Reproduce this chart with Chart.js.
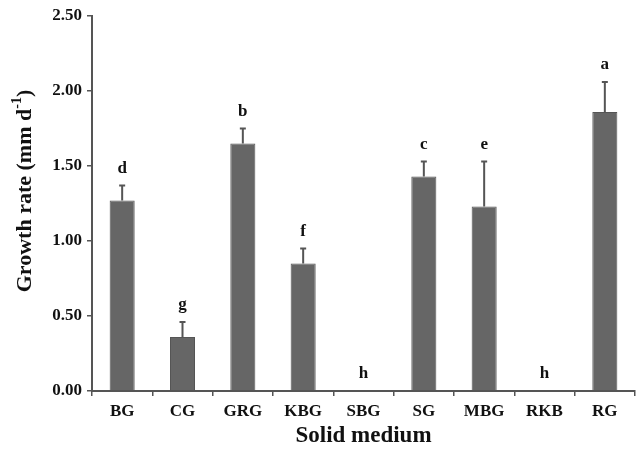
<!DOCTYPE html>
<html>
<head>
<meta charset="utf-8">
<script src="https://cdn.jsdelivr.net/npm/chart.js@4"></script>
<style>
  html, body { margin:0; padding:0; background:#fff; }
  #wrap { width:638px; height:450px; }
</style>
</head>
<body>
<div id="wrap"><canvas id="growth-chart" width="638" height="450"></canvas></div>
<script>
// ─── Data ─────────────────────────────────────────────────────
const media   = ['BG', 'CG', 'GRG', 'KBG', 'SBG', 'SG', 'MBG', 'RKB', 'RG'];
const rates   = [1.27, 0.36, 1.65, 0.85, 0, 1.43, 1.23, 0, 1.86];
const errs    = [0.10, 0.10, 0.10, 0.10, 0, 0.10, 0.30, 0, 0.20];
const letters = ['d', 'g', 'b', 'f', 'h', 'c', 'e', 'h', 'a'];
const yTicks  = [0, 0.5, 1.0, 1.5, 2.0, 2.5];

const SERIF = "'Liberation Serif', 'Times New Roman', serif";
const AXIS  = '#555';

// ── Error bars + significance letters ─────────────────────────
const annot = {
  id: 'annot',
  afterDatasetsDraw(chart) {
    const { ctx, scales: { x, y } } = chart;
    ctx.save();
    ctx.strokeStyle = AXIS;
    ctx.lineWidth = 2;
    rates.forEach((v, i) => {
      const cx  = x.getPixelForValue(i);
      const top = y.getPixelForValue(v + errs[i]);
      if (errs[i] > 0) {
        ctx.beginPath();
        ctx.moveTo(cx, y.getPixelForValue(v));
        ctx.lineTo(cx, top);
        ctx.moveTo(cx - 3, top);
        ctx.lineTo(cx + 3, top);
        ctx.stroke();
      }
      ctx.fillStyle = '#111';
      ctx.font = 'bold 17px ' + SERIF;
      ctx.textAlign = 'center';
      ctx.textBaseline = 'middle';
      ctx.fillText(letters[i], cx, top - 17);
    });
    ctx.restore();
  },
  afterDraw(chart) {
    // y title with superscript
    const { ctx } = chart;
    ctx.save();
    ctx.translate(25, 191);
    ctx.rotate(-Math.PI / 2);
    ctx.fillStyle = '#111';
    ctx.textBaseline = 'middle';
    const main = 'Growth rate (mm d', sup = '-1', end = ')';
    ctx.font = 'bold 22px ' + SERIF;
    const w1 = ctx.measureText(main).width;
    const w3 = ctx.measureText(end).width;
    ctx.font = 'bold 14px ' + SERIF;
    const w2 = ctx.measureText(sup).width;
    let sx = -(w1 + w2 + w3) / 2;
    ctx.font = 'bold 22px ' + SERIF;
    ctx.textAlign = 'left';
    ctx.fillText(main, sx, 0);
    ctx.font = 'bold 14px ' + SERIF;
    ctx.fillText(sup, sx + w1, -8);
    ctx.font = 'bold 22px ' + SERIF;
    ctx.fillText(end, sx + w1 + w2, 0);
    ctx.restore();
  },
};

new Chart(document.getElementById('growth-chart'), {
  type: 'bar',
  data: {
    labels: media,
    datasets: [{
      data: rates,
      backgroundColor: '#666666',
      borderColor:     '#555555',
      borderWidth:     1,
      categoryPercentage: 1,
      barPercentage:   0.415,
    }],
  },
  options: {
    responsive: false,
    animation:  false,
    layout: { padding: { top: 16, right: 3, left: 0, bottom: 0 } },
    plugins: { legend: { display: false }, tooltip: { enabled: false } },
    scales: {
      x: {
        grid:   { offset: true, drawOnChartArea: false, color: AXIS, tickLength: 5, lineWidth: 1.5 },
        border: { color: AXIS, width: 2 },
        ticks:  { color: '#111', padding: 5, font: { family: SERIF, size: 17, weight: 'bold' } },
        title:  { display: true, text: 'Solid medium', color: '#111', padding: { top: 1, bottom: 0 },
                  font: { family: SERIF, size: 23, weight: 'bold' } },
        afterFit: s => { s.height = 59; },
      },
      y: {
        min: 0, max: 2.5,
        afterBuildTicks: s => { s.ticks = yTicks.map(v => ({ value: v })); },
        grid:   { drawOnChartArea: false, color: AXIS, tickLength: 5, lineWidth: 1.5 },
        border: { color: AXIS, width: 2 },
        ticks:  { color: '#111', padding: 5, callback: v => v.toFixed(2),
                  font: { family: SERIF, size: 17, weight: 'bold' } },
        afterFit: s => { s.width = 92; },
      },
    },
  },
  plugins: [annot],
});
</script>
</body>
</html>
